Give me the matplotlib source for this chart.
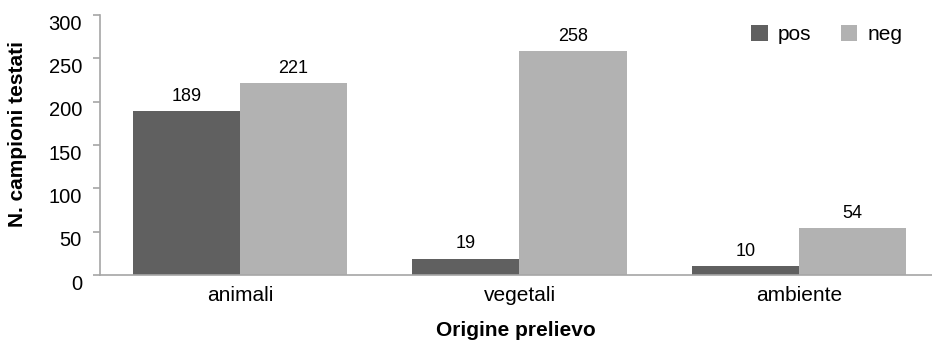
import matplotlib
matplotlib.use("Agg")
import matplotlib.pyplot as plt
import matplotlib.transforms as mtransforms
import numpy as np

plt.rcParams['font.family'] = ['Liberation Sans', 'DejaVu Sans']

# ---------------- DATA ----------------
categorie = ["animali", "vegetali", "ambiente"]
pos = [189, 19, 10]
neg = [221, 258, 54]

COL_POS = "#606060"
COL_NEG = "#b2b2b2"
COL_AXIS = "#a6a6a6"

# ---------------- FIGURE ----------------
fig = plt.figure(figsize=(9.32, 3.42), dpi=100)
ax = fig.add_axes([100 / 932, 67 / 342, 832 / 932, 260 / 342])

x = np.arange(len(categorie))
w = 0.383

b1 = ax.bar(x - w / 2, pos, width=w, color=COL_POS, label="pos")
b2 = ax.bar(x + w / 2, neg, width=w, color=COL_NEG, label="neg")

# value labels above each bar
for bars, vals in ((b1, pos), (b2, neg)):
    for rect, v in zip(bars, vals):
        ax.annotate(str(v), (rect.get_x() + rect.get_width() / 2, v),
                    xytext=(0, 4.5), textcoords="offset points",
                    ha="center", va="bottom", fontsize=13)

ax.set_xlim(-0.5, 2.475)
ax.set_ylim(0, 300)
ax.set_yticks(range(0, 301, 50))
ax.set_xticks(x)
ax.set_xticklabels(categorie)

for s in ("top", "right"):
    ax.spines[s].set_visible(False)
for s in ("left", "bottom"):
    ax.spines[s].set_color(COL_AXIS)
    ax.spines[s].set_linewidth(1.2)

ax.tick_params(axis="y", length=5, width=1.2, color=COL_AXIS, pad=8, labelsize=14.5)
ax.tick_params(axis="x", length=0, pad=8, labelsize=15)

# y labels sit a little below their ticks
shift = mtransforms.ScaledTranslation(0, -7 / 100, fig.dpi_scale_trans)
for lab in ax.get_yticklabels():
    lab.set_transform(lab.get_transform() + shift)

fig.text(18 / 932, 1 - 134 / 342, "N. campioni testati", rotation=90,
         ha="center", va="center", fontsize=15, fontweight="bold")
fig.text(516 / 932, 1 - 331 / 342, "Origine prelievo",
         ha="center", va="center", fontsize=15, fontweight="bold")

ax.legend(loc="upper left", bbox_to_anchor=(751 / 932, 1 - 25 / 342),
          bbox_transform=fig.transFigure, frameon=False, ncol=2,
          fontsize=15, borderpad=0, borderaxespad=0,
          handlelength=0.8, handleheight=0.8, handletextpad=0.5,
          columnspacing=1.4)

fig.savefig("out.png", dpi=100)
